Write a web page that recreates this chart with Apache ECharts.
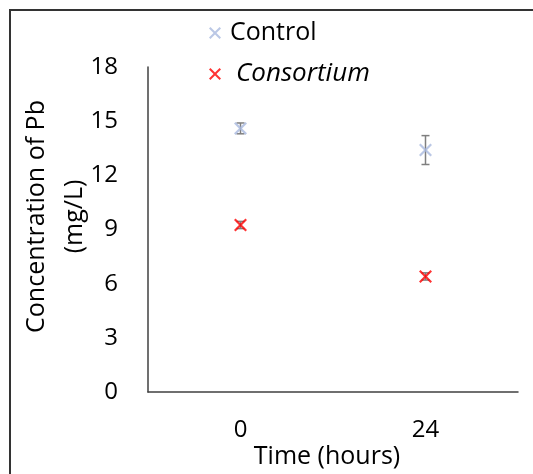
<!DOCTYPE html>
<html>
<head>
<meta charset="utf-8">
<script src="https://cdn.jsdelivr.net/npm/echarts@6/dist/echarts.min.js"></script>
<style>
  html, body { margin: 0; padding: 0; background: #fff; }
  #chart { width: 533px; height: 474px; }
</style>
</head>
<body>
<div id="chart"></div>
<script>
// 数据
const categories = ["0", "24"];
const controlMean = [14.6, 13.4];
const controlErr = [0.3, 0.8];
const consortiumMean = [9.25, 6.4];
const consortiumErr = [0.2, 0.2];
const yTicks = [0, 3, 6, 9, 12, 15, 18];

const FONT = "Open Sans";
const CROSS = "path://M0,1.2 L1.2,0 L5,3.8 L8.8,0 L10,1.2 L6.2,5 L10,8.8 L8.8,10 L5,6.2 L1.2,10 L0,8.8 L3.8,5 Z";

const chart = echarts.init(document.getElementById("chart"));

// 误差线
const errorBars = (mean, err) => ({
  type: "custom",
  silent: true,
  z: 1,
  data: mean.map((m, i) => [i, m - err[i], m + err[i]]),
  renderItem: (params, api) => {
    const lo = api.coord([api.value(0), api.value(1)]);
    const hi = api.coord([api.value(0), api.value(2)]);
    const half = 4;
    const style = { stroke: "#7f7f7f", lineWidth: 1.5 };
    return {
      type: "group",
      children: [
        { type: "line", shape: { x1: lo[0], y1: lo[1], x2: hi[0], y2: hi[1] }, style },
        { type: "line", shape: { x1: lo[0] - half, y1: lo[1], x2: lo[0] + half, y2: lo[1] }, style },
        { type: "line", shape: { x1: hi[0] - half, y1: hi[1], x2: hi[0] + half, y2: hi[1] }, style },
      ],
    };
  },
});

const options = {
  animation: false,
  textStyle: { fontFamily: FONT },
  graphic: [
    {
      type: "polyline",
      shape: { points: [[10, 474], [10, 10], [533, 10]] },
      style: { stroke: "#333", lineWidth: 2, fill: null },
    },
  ],
  legend: {
    orient: "vertical",
    left: 204,
    top: 13,
    itemWidth: 12,
    itemHeight: 12,
    itemGap: 11,
    textStyle: { fontFamily: FONT, fontSize: 25, color: "#000", lineHeight: 30, padding: [0, 0, 0, 4] },
    data: [
      { name: "Control", icon: CROSS },
      { name: "Consortium", icon: CROSS, textStyle: { fontStyle: "italic", fontSize: 26, padding: [0, 0, 0, 10] } },
    ],
  },
  grid: { left: 148, right: 15, top: 67, bottom: 82 },
  xAxis: {
    type: "category",
    data: categories,
    name: "Time (hours)",
    nameLocation: "middle",
    nameGap: 52,
    nameMoveOverlap: false,
    nameTextStyle: { fontFamily: FONT, fontSize: 25, color: "#000", padding: [0, 12, 0, 0] },
    axisLine: { lineStyle: { color: "#404040", width: 1.5 } },
    axisTick: { show: false },
    axisLabel: { fontFamily: FONT, fontSize: 24, color: "#000", margin: 26 },
  },
  yAxis: {
    type: "value",
    min: yTicks[0],
    max: yTicks[yTicks.length - 1],
    interval: 3,
    name: "Concentration of Pb\n(mg/L)",
    nameLocation: "middle",
    nameRotate: 90,
    nameGap: 54,
    nameMoveOverlap: false,
    nameTextStyle: { fontFamily: FONT, fontSize: 25, color: "#000", lineHeight: 38, padding: [0, 0, 0, 26] },
    axisLine: { show: true, lineStyle: { color: "#404040", width: 1.5 } },
    axisTick: { show: false },
    splitLine: { show: false },
    axisLabel: { fontFamily: FONT, fontSize: 24, color: "#000", margin: 30 },
  },
  series: [
    errorBars(controlMean, controlErr),
    errorBars(consortiumMean, consortiumErr),
    {
      name: "Control",
      type: "scatter",
      z: 2,
      symbol: CROSS,
      symbolSize: 13,
      itemStyle: { color: "#a9b9de" },
      data: controlMean,
    },
    {
      name: "Consortium",
      type: "scatter",
      z: 2,
      symbol: CROSS,
      symbolSize: 13,
      itemStyle: { color: "#ff0000" },
      data: consortiumMean,
    },
  ],
};

chart.setOption(options);
</script>
</body>
</html>
